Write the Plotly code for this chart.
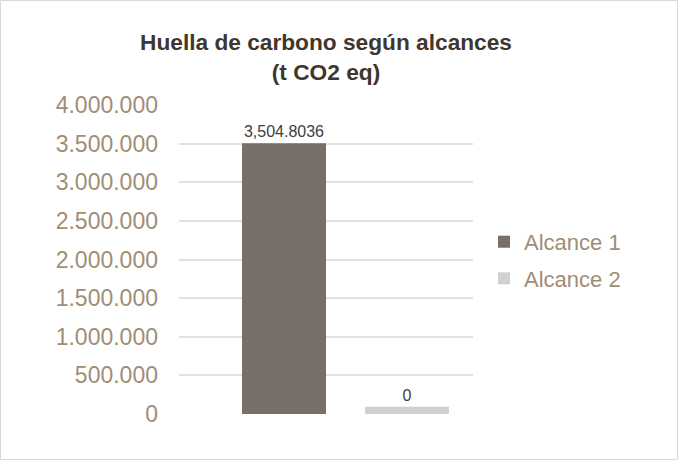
import plotly.graph_objects as go

series = ["Alcance 1", "Alcance 2"]
values = [3504803.6, 95000]
labels = ["3,504.8036", "0"]
colors = ["#786F69", "#D0D0D0"]
y_ticks = [0, 500000, 1000000, 1500000, 2000000, 2500000, 3000000, 3500000, 4000000]

fig = go.Figure()
for s, v, t, c in zip(series, values, labels, colors):
    fig.add_trace(go.Bar(
        x=[s], y=[v], name=s, text=[t], textposition="outside",
        textfont=dict(size=16, color="#404040", family="Liberation Sans, Arial"),
        marker=dict(color=c, line=dict(width=0)), width=0.683,
        cliponaxis=False, legendgroup=s,
    ))

L, R, T, B = 179, 205, 105, 46
W, H = 678, 460
pw, ph = W - L - R, H - T - B

fig.update_layout(
    width=W, height=H,
    margin=dict(l=L, r=R, t=T, b=B),
    paper_bgcolor="white", plot_bgcolor="white",
    separators=",.",
    barmode="overlay",
    font=dict(family="Liberation Sans, Arial", color="#A08D76"),
    title=dict(
        text="<b>Huella de carbono según alcances<br>(t CO2 eq)</b>",
        x=0.5, xref="paper", xanchor="center",
        y=1 - 50 / H, yref="container", yanchor="middle",
        font=dict(size=22.7, color="#3F362E", family="Liberation Sans, Arial"),
    ),
    xaxis=dict(type="category", categoryarray=series, range=[-0.854, 1.537],
               showticklabels=False, showgrid=False, zeroline=False, showline=False),
    yaxis=dict(range=[0, 4000000], tickvals=y_ticks, tickformat=",d",
               showgrid=True, gridcolor="#E4E0DA", gridwidth=2,
               zeroline=False, showline=False, ticks="",
               tickfont=dict(size=23, color="#A08D76"), ticklabelstandoff=20),
    legend=dict(x=(484 - L) / pw, xanchor="left", y=0.497, yanchor="middle",
                font=dict(size=22, color="#A08D76"), traceorder="grouped",
                tracegroupgap=5, bgcolor="rgba(0,0,0,0)"),
    showlegend=True,
)

fig.add_shape(type="rect", xref="paper", yref="paper",
              x0=(0.5 - L) / pw, x1=(W - 0.5 - L) / pw,
              y0=-(B - 0.5) / ph, y1=1 + (T - 0.5) / ph,
              line=dict(color="#D9D9D9", width=1), fillcolor="rgba(0,0,0,0)", layer="below")

fig.write_html("out.html", config={"displayModeBar": False},
               post_script="document.body.style.margin='0';")
